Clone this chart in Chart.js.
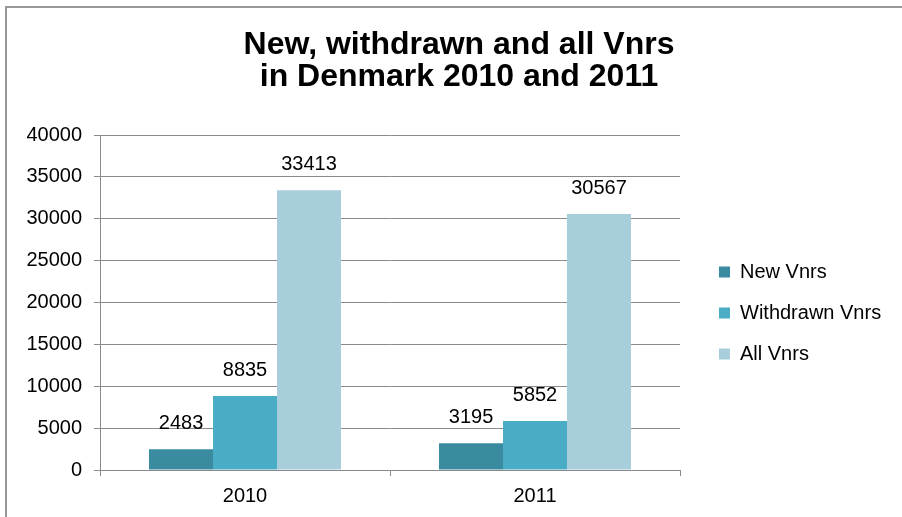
<!DOCTYPE html>
<html>
<head>
<meta charset="utf-8">
<script src="https://cdn.jsdelivr.net/npm/chart.js@4/dist/chart.umd.min.js"></script>
<style>
  html, body { margin: 0; padding: 0; background: #fff; }
  #wrap { position: relative; width: 902px; height: 517px; overflow: hidden; }
  #frame { position: absolute; left: 5px; top: 6px; width: 900px; height: 520px;
           border-top: 2px solid #979797; border-left: 2px solid #979797; pointer-events: none; }
  canvas { position: absolute; left: 0; top: 0; }
</style>
</head>
<body>
<div id="wrap">
  <canvas id="c" width="902" height="517"></canvas>
  <div id="frame"></div>
</div>
<script>
// ---- data ----
const titleLines = ['New, withdrawn and all Vnrs', 'in Denmark 2010 and 2011'];
const categories = ['2010', '2011'];
const seriesNames = ['New Vnrs', 'Withdrawn Vnrs', 'All Vnrs'];
const newVnrs = [2483, 3195];
const withdrawnVnrs = [8835, 5852];
const allVnrs = [33413, 30567];
const yMin = 0;
const yMax = 40000;
const yStep = 5000;

const colors = ['#3A8BA0', '#4BACC6', '#A8CEDC'];
const FONT = '"Liberation Sans", Arial, sans-serif';

const valueLabels = {
  id: 'valueLabels',
  afterDatasetsDraw(chart) {
    const ctx = chart.ctx;
    ctx.save();
    ctx.font = '20px ' + FONT;
    ctx.fillStyle = '#000';
    ctx.textAlign = 'center';
    ctx.textBaseline = 'alphabetic';
    chart.data.datasets.forEach((ds, di) => {
      const meta = chart.getDatasetMeta(di);
      meta.data.forEach((el, i) => {
        ctx.fillText(String(ds.data[i]), el.x, el.y - 20);
      });
    });
    ctx.restore();
  }
};

const placeBlocks = {
  id: 'placeBlocks',
  afterLayout(chart) {
    const lg = chart.legend;
    if (lg) {
      lg.left = 698; lg.right = 902;
      lg.top = 241; lg.bottom = 517;
    }
    const tb = chart.titleBlock;
    if (tb) {
      tb.left = 16; tb.right = 902;
    }
  }
};

new Chart(document.getElementById('c'), {
  type: 'bar',
  data: {
    labels: categories,
    datasets: [
      { label: seriesNames[0], data: newVnrs, backgroundColor: colors[0], borderWidth: 0 },
      { label: seriesNames[1], data: withdrawnVnrs, backgroundColor: colors[1], borderWidth: 0 },
      { label: seriesNames[2], data: allVnrs, backgroundColor: colors[2], borderWidth: 0 }
    ]
  },
  options: {
    responsive: false,
    animation: false,
    layout: { padding: { left: 0, right: 72, top: 0, bottom: 1 } },
    datasets: { bar: { categoryPercentage: 0.662, barPercentage: 1.0 } },
    plugins: {
      title: {
        display: true,
        text: titleLines,
        color: '#000',
        font: { family: FONT, size: 32, weight: 'bold', lineHeight: 1.0 },
        padding: { top: 29, bottom: 42 }
      },
      legend: {
        display: true,
        position: 'right',
        align: 'start',
        maxWidth: 150,
        labels: {
          boxWidth: 11, boxHeight: 11, padding: 21,
          color: '#000',
          font: { family: FONT, size: 20 }
        }
      },
      tooltip: { enabled: false }
    },
    scales: {
      x: {
        grid: { display: true, drawOnChartArea: false, drawTicks: true, tickLength: 6, color: '#8a8a8a', offset: true },
        border: { display: true, color: '#8a8a8a', width: 1 },
        ticks: { color: '#000', padding: 8, font: { family: FONT, size: 20 } }
      },
      y: {
        min: yMin, max: yMax,
        afterFit(scale) { scale.width = 100; },
        grid: { color: '#8a8a8a', tickLength: 6, lineWidth: 1 },
        border: { display: true, color: '#8a8a8a', width: 1 },
        ticks: { stepSize: yStep, color: '#000', padding: 12, font: { family: FONT, size: 20 },
                 callback: (v) => String(v) }
      }
    }
  },
  plugins: [valueLabels, placeBlocks]
});
</script>
</body>
</html>
